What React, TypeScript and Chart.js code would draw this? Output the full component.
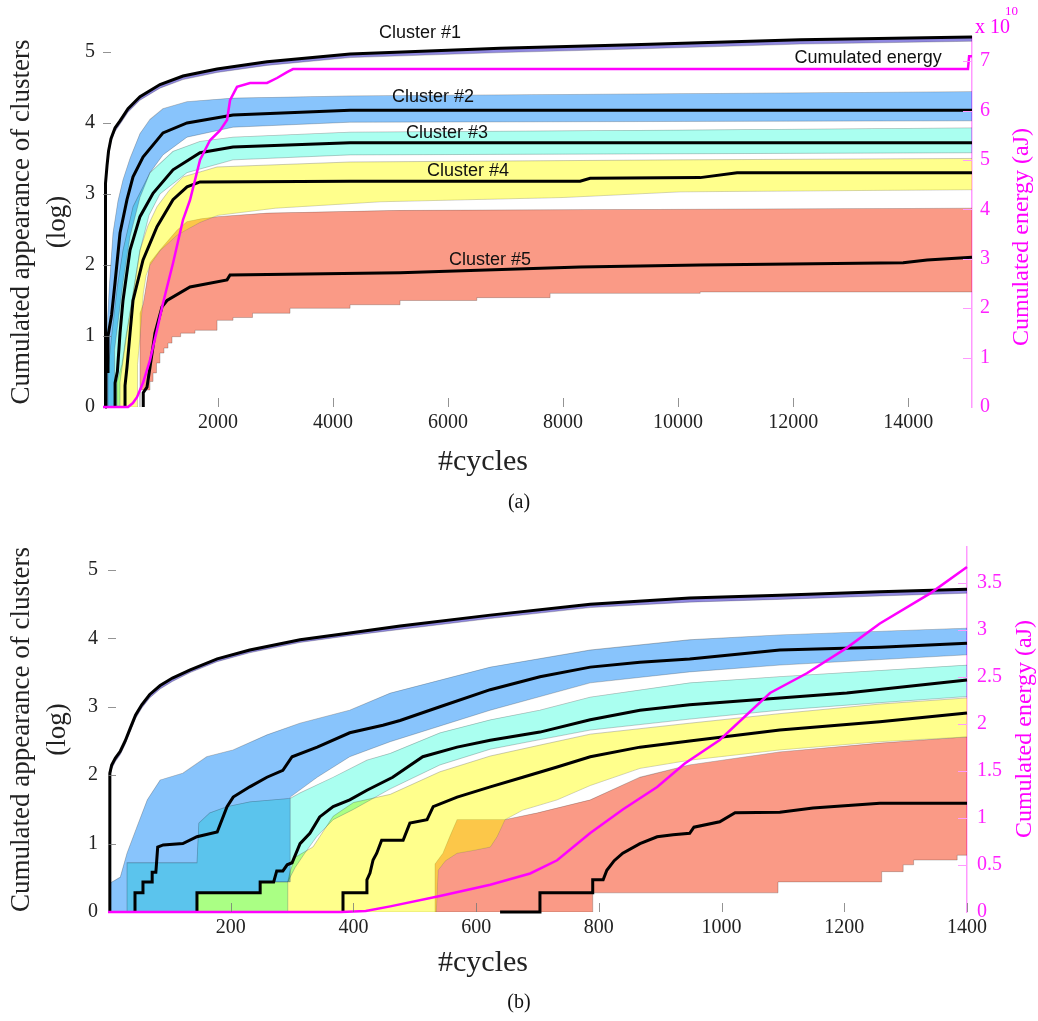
import React, { useEffect, useRef } from 'react';
import { Chart, registerables } from 'chart.js';

// per-dataset blend mode for band fills (registered before the Filler so it wraps the fill)
const blendFills = {
  id: 'blendFills',
  beforeDatasetDraw(chart: any, args: any) {
    const ds: any = chart.data.datasets[args.index];
    chart.ctx.save();
    if (ds && ds.blend) chart.ctx.globalCompositeOperation = ds.blend;
  },
  afterDatasetDraw(chart: any) {
    chart.ctx.restore();
  },
};
Chart.register(blendFills as any);
Chart.register(...registerables);

// ---------------- Panel (a) data ----------------
const A_X_TICKS = [2000, 4000, 6000, 8000, 10000, 12000, 14000];
const A_Y_TICKS = [0, 1, 2, 3, 4, 5];
const A_Y2_TICKS = [0, 1, 2, 3, 4, 5, 6, 7];

const A_X_C1 = [35, 35, 52, 70, 96, 139, 209, 296, 435, 643, 991, 1391, 1983, 2852, 4296, 6904, 9217, 12122, 15110];
const A_Y_C1 = [0, 2.9, 3.15, 3.4, 3.6, 3.78, 3.93, 4.03, 4.2, 4.37, 4.54, 4.66, 4.76, 4.86, 4.97, 5.05, 5.1, 5.17, 5.21];
const A_Y_C1_LOW = [0, 2.85, 3.1, 3.35, 3.55, 3.73, 3.88, 3.98, 4.15, 4.32, 4.49, 4.61, 4.71, 4.81, 4.92, 4.99, 5.04, 5.11, 5.15];

const A_X_C2 = [52, 52, 87, 87, 150, 209, 296, 417, 522, 696, 1043, 1461, 2261, 4296, 15110];
const A_Y_C2 = [0, 0.5, 0.5, 1.0, 1.3, 1.75, 2.45, 2.92, 3.24, 3.52, 3.86, 4.0, 4.11, 4.18, 4.18];
const A_X_C2_UP = [35, 35, 70, 110, 174, 260, 348, 470, 643, 817, 1043, 1461, 2261, 4296, 15110];
const A_Y_C2_UP = [0, 0.6, 1.1, 1.7, 2.45, 2.9, 3.2, 3.5, 3.85, 4.05, 4.2, 4.3, 4.35, 4.38, 4.44];
const A_X_C2_LOW = [35, 200, 200, 348, 470, 643, 817, 1043, 1461, 2261, 4296, 15110];
const A_Y_C2_LOW = [0, 0, 0.8, 1.75, 2.4, 2.95, 3.3, 3.55, 3.8, 3.94, 4.01, 4.03];

const A_X_C3 = [210, 210, 250, 296, 348, 470, 643, 870, 1217, 1687, 2261, 4296, 15110];
const A_Y_C3 = [0, 0.34, 0.5, 1.04, 1.5, 2.21, 2.68, 3.01, 3.34, 3.58, 3.66, 3.72, 3.72];
const A_X_C3_UP = [87, 87, 150, 250, 348, 522, 817, 1217, 1687, 2261, 4296, 10000, 15110];
const A_Y_C3_UP = [0, 0.5, 1.0, 1.7, 2.21, 2.82, 3.3, 3.6, 3.74, 3.8, 3.87, 3.9, 3.93];
const A_X_C3_LOW = [87, 296, 296, 400, 504, 643, 800, 991, 1461, 2261, 4296, 15110];
const A_Y_C3_LOW = [0, 0, 0.35, 0.95, 1.5, 2.2, 2.7, 3.0, 3.3, 3.48, 3.55, 3.58];

const A_X_C4 = [383, 383, 417, 470, 522, 696, 939, 1217, 1461, 1687, 4296, 8296, 8470, 10383, 11026, 15110];
const A_Y_C4 = [0, 0.3, 0.56, 1.04, 1.5, 2.07, 2.54, 2.92, 3.1, 3.17, 3.18, 3.18, 3.22, 3.23, 3.3, 3.3];
const A_X_C4_UP = [243, 243, 330, 400, 504, 643, 780, 939, 1150, 1391, 1983, 4296, 10000, 15110];
const A_Y_C4_UP = [0, 0.35, 0.6, 1.0, 1.5, 2.21, 2.55, 2.82, 3.05, 3.24, 3.38, 3.45, 3.48, 3.5];
const A_X_C4_LOW = [243, 600, 600, 643, 700, 748, 817, 991, 1287, 1461, 1687, 2000, 3000, 4817, 8000, 10035, 15110];
const A_Y_C4_LOW = [0, 0, 0.6, 1.0, 1.6, 1.85, 2.0, 2.2, 2.42, 2.5, 2.6, 2.7, 2.8, 2.89, 2.95, 3.03, 3.06];

const A_X_C5 = [700, 700, 765, 817, 904, 1026, 1113, 1513, 2157, 2209, 5165, 8296, 10383, 13913, 14330, 15110];
const A_Y_C5 = [0, 0.2, 0.28, 0.56, 1.04, 1.41, 1.5, 1.69, 1.79, 1.86, 1.89, 1.97, 2.0, 2.03, 2.07, 2.11];
const A_X_C5_UP = [643, 643, 700, 748, 817, 991, 1287, 1461, 1700, 2000, 2852, 5165, 15110];
const A_Y_C5_UP = [0, 1.32, 1.45, 1.69, 2.03, 2.21, 2.49, 2.61, 2.65, 2.68, 2.73, 2.77, 2.8];
const A_X_C5_LOW = [643, 817, 870, 930, 990, 1060, 1130, 1200, 1350, 1600, 1983, 2261, 2600, 3252, 4296, 5165, 6500, 7774, 10383, 15110];
const A_Y_C5_LOW = [0, 0.24, 0.36, 0.48, 0.62, 0.76, 0.83, 0.9, 0.99, 1.04, 1.08, 1.22, 1.26, 1.32, 1.39, 1.44, 1.5, 1.54, 1.6, 1.62];

const A_X_ENERGY = [0, 435, 520, 591, 696, 817, 939, 1043, 1217, 1391, 1513, 1687, 1861, 2035, 2157, 2209, 2330, 2557, 2852, 3026, 3200, 3304, 15040, 15060, 15110];
const A_Y_ENERGY = [0, 0, 0.08, 0.2, 0.49, 0.95, 1.56, 2.1, 2.91, 3.79, 4.19, 5.0, 5.4, 5.6, 5.81, 6.21, 6.48, 6.56, 6.56, 6.66, 6.78, 6.84, 6.84, 7.1, 7.1];

// ---------------- Panel (b) data ----------------
const B_X_TICKS = [200, 400, 600, 800, 1000, 1200, 1400];
const B_Y_TICKS = [0, 1, 2, 3, 4, 5];
const B_Y2_TICKS = [0, 0.5, 1, 1.5, 2, 2.5, 3, 3.5];

const B_X_C1 = [3, 3, 6, 12, 20, 28, 36, 45, 55, 68, 85, 105, 134, 178, 231, 313, 394, 476, 623, 786, 948, 1095, 1258, 1400];
const B_Y_C1 = [0, 2.03, 2.15, 2.25, 2.35, 2.5, 2.68, 2.88, 3.03, 3.18, 3.31, 3.42, 3.54, 3.7, 3.83, 3.98, 4.08, 4.18, 4.34, 4.5, 4.59, 4.63, 4.68, 4.72];
const B_Y_C1_LOW = [0, 1.95, 2.09, 2.2, 2.3, 2.45, 2.63, 2.83, 2.98, 3.13, 3.26, 3.37, 3.5, 3.66, 3.79, 3.94, 4.04, 4.13, 4.29, 4.45, 4.53, 4.57, 4.62, 4.66];

const B_X_C2 = [44, 44, 57, 57, 72, 72, 78, 81, 90, 122, 145, 178, 194, 204, 231, 259, 285, 300, 341, 394, 448, 476, 541, 623, 704, 786, 867, 948, 1095, 1258, 1400];
const B_Y_C2 = [0, 0.28, 0.28, 0.44, 0.44, 0.58, 0.58, 0.95, 0.98, 1.0, 1.1, 1.17, 1.54, 1.68, 1.83, 1.97, 2.07, 2.27, 2.41, 2.62, 2.73, 2.8, 3.0, 3.25, 3.44, 3.58, 3.65, 3.7, 3.83, 3.87, 3.93];
const B_X_C2_UP = [3, 3, 20, 31, 47, 64, 85, 122, 161, 204, 259, 313, 394, 460, 623, 786, 948, 1095, 1400];
const B_Y_C2_UP = [0, 0.42, 0.51, 0.86, 1.24, 1.64, 1.93, 2.03, 2.27, 2.37, 2.59, 2.76, 2.95, 3.2, 3.58, 3.83, 3.98, 4.05, 4.15];
const B_X_C2_LOW = [3, 145, 145, 248, 248, 297, 297, 341, 394, 460, 623, 786, 948, 1095, 1400];
const B_Y_C2_LOW = [0, 0, 0.28, 0.28, 0.44, 0.44, 1.68, 1.97, 2.27, 2.49, 2.95, 3.35, 3.51, 3.61, 3.76];

const B_X_C3 = [145, 145, 248, 248, 270, 275, 285, 292, 300, 313, 329, 345, 367, 394, 422, 464, 513, 569, 623, 704, 786, 867, 948, 1095, 1204, 1400];
const B_Y_C3 = [0, 0.28, 0.28, 0.44, 0.44, 0.6, 0.6, 0.69, 0.72, 1.0, 1.15, 1.39, 1.54, 1.64, 1.78, 1.97, 2.27, 2.41, 2.51, 2.63, 2.81, 2.95, 3.03, 3.13, 3.2, 3.39];
const B_X_C3_UP = [31, 31, 145, 148, 166, 194, 231, 297, 313, 367, 422, 460, 541, 623, 704, 786, 948, 1095, 1400];
const B_Y_C3_UP = [0, 0.72, 0.72, 1.3, 1.45, 1.54, 1.61, 1.66, 1.74, 1.97, 2.22, 2.32, 2.62, 2.81, 2.95, 3.14, 3.35, 3.44, 3.61];
const B_X_C3_LOW = [31, 293, 293, 305, 320, 340, 367, 400, 460, 541, 623, 704, 786, 948, 1095, 1258, 1400];
const B_Y_C3_LOW = [0, 0, 0.44, 0.65, 0.85, 1.1, 1.35, 1.5, 1.8, 2.15, 2.38, 2.52, 2.66, 2.82, 2.95, 3.06, 3.15];

const B_X_C4 = [383, 383, 422, 422, 427, 432, 438, 446, 481, 492, 520, 530, 569, 623, 676, 732, 786, 867, 948, 1095, 1258, 1400];
const B_Y_C4 = [0, 0.28, 0.28, 0.47, 0.57, 0.76, 0.86, 1.05, 1.05, 1.3, 1.35, 1.54, 1.68, 1.83, 1.97, 2.12, 2.27, 2.41, 2.5, 2.66, 2.78, 2.91];
const B_X_C4_UP = [145, 145, 248, 248, 293, 297, 305, 334, 367, 400, 460, 541, 623, 704, 786, 948, 1095, 1258, 1400];
const B_Y_C4_UP = [0, 0.28, 0.28, 0.44, 0.44, 0.6, 0.8, 0.95, 1.4, 1.6, 1.72, 2.05, 2.28, 2.44, 2.6, 2.76, 2.9, 3.04, 3.13];
const B_X_C4_LOW = [145, 535, 538, 550, 569, 595, 623, 634, 647, 676, 732, 786, 867, 948, 1095, 1258, 1400];
const B_Y_C4_LOW = [0, 0, 0.61, 0.75, 0.86, 0.9, 0.95, 1.1, 1.35, 1.49, 1.64, 1.85, 2.1, 2.22, 2.37, 2.49, 2.56];

const B_X_C5 = [639, 704, 704, 790, 790, 807, 813, 825, 839, 867, 895, 921, 948, 955, 997, 1022, 1095, 1149, 1258, 1400];
const B_Y_C5 = [0, 0, 0.28, 0.28, 0.47, 0.47, 0.61, 0.75, 0.86, 1.0, 1.1, 1.13, 1.15, 1.24, 1.32, 1.45, 1.46, 1.52, 1.59, 1.59];
const B_X_C5_UP = [533, 533, 546, 557, 569, 647, 700, 786, 867, 948, 1095, 1258, 1400];
const B_Y_C5_UP = [0, 0.7, 0.86, 1.1, 1.35, 1.35, 1.45, 1.64, 1.97, 2.15, 2.34, 2.47, 2.56];
const B_X_C5_LOW = [533, 790, 790, 1092, 1092, 1261, 1261, 1296, 1296, 1313, 1313, 1384, 1384, 1400];
const B_Y_C5_LOW = [0, 0, 0.28, 0.28, 0.44, 0.44, 0.59, 0.59, 0.69, 0.69, 0.76, 0.76, 0.83, 0.83];

const B_X_ENERGY = [0, 380, 420, 460, 541, 623, 688, 732, 786, 839, 895, 940, 997, 1079, 1139, 1204, 1258, 1340, 1400];
const B_Y_ENERGY = [0, 0, 0.01, 0.06, 0.17, 0.29, 0.41, 0.55, 0.84, 1.09, 1.33, 1.58, 1.83, 2.33, 2.54, 2.81, 3.07, 3.39, 3.67];

// ---------------- styling ----------------
const SERIF = '"Liberation Serif", "Times New Roman", serif';
const SANS = '"Liberation Sans", Arial, sans-serif';
const MAGENTA = '#ff00ff';
const EDGE = 'rgba(110,110,110,0.45)';
const COL_C1 = '#9088e0';
const COL_C2 = '#88c4fc';
const COL_C3 = '#aafff0';
const COL_C4 = 'rgba(255,255,0,0.45)';
const COL_C5 = '#fa9a86';

const P = (xs: number[], ys: number[]) => xs.map((x, i) => ({ x, y: ys[i] }));

function band(upX: number[], upY: number[], loX: number[], loY: number[], color: string, blend = 'multiply', steppedLow: any = false) {
  return [
    { data: P(upX, upY), fill: '+1', backgroundColor: color, borderColor: EDGE, borderWidth: 0.8, pointRadius: 0, order: 5, yAxisID: 'y', blend },
    { data: P(loX, loY), fill: false, borderColor: EDGE, borderWidth: 0.8, pointRadius: 0, order: 5, yAxisID: 'y', stepped: steppedLow },
  ];
}
function median(xs: number[], ys: number[], w = 3) {
  return { data: P(xs, ys), fill: false, borderColor: '#000', borderWidth: w, pointRadius: 0, order: 2, clip: 6, yAxisID: 'y' };
}
function energy(xs: number[], ys: number[]) {
  return { data: P(xs, ys), fill: false, borderColor: MAGENTA, borderWidth: 2.5, pointRadius: 0, order: 1, clip: 6, yAxisID: 'y2' };
}

type TextItem = { text: string; x: number; y: number; font: string; color: string; align?: CanvasTextAlign; rot?: number; data?: boolean };

function overlay(items: TextItem[]) {
  return {
    id: 'overlay',
    afterDraw(chart: any) {
      const { ctx, chartArea: a, scales } = chart;
      ctx.save();
      ctx.lineWidth = 1;
      ctx.strokeStyle = 'rgba(120,120,120,0.8)';
      for (const t of scales.y.ticks) {
        if (t.value === 0) continue;
        const py = Math.round(scales.y.getPixelForValue(t.value)) + 0.5;
        ctx.beginPath(); ctx.moveTo(a.left, py); ctx.lineTo(a.left + 8, py); ctx.stroke();
      }
      for (const t of scales.x.ticks) {
        if (t.value === 0) continue;
        const px = Math.round(scales.x.getPixelForValue(t.value)) + 0.5;
        ctx.beginPath(); ctx.moveTo(px, a.bottom); ctx.lineTo(px, a.bottom - 9); ctx.stroke();
      }
      ctx.strokeStyle = '#ff99ff';
      for (const t of scales.y2.ticks) {
        if (t.value === 0) continue;
        const py = Math.round(scales.y2.getPixelForValue(t.value)) + 0.5;
        ctx.beginPath(); ctx.moveTo(a.right - 9, py); ctx.lineTo(a.right, py); ctx.stroke();
      }
      for (const it of items) {
        ctx.save();
        ctx.font = it.font;
        ctx.fillStyle = it.color;
        ctx.textAlign = it.align || 'center';
        ctx.textBaseline = 'middle';
        const px = it.data ? scales.x.getPixelForValue(it.x) : it.x;
        const py = it.data ? scales.y.getPixelForValue(it.y) : it.y;
        ctx.translate(px, py);
        if (it.rot) ctx.rotate(it.rot);
        ctx.fillText(it.text, 0, 0);
        ctx.restore();
      }
      ctx.restore();
    },
  };
}

type PanelCfg = {
  datasets: any[]; xMax: number; yMax: number; y2Max: number;
  xTicks: number[]; yTicks: number[]; y2Ticks: number[];
  top: number; leftW: number; rightW: number; bottomH: number; leftPad: number; rightPad: number; items: TextItem[];
};

const setTicks = (vals: number[]) => (s: any) => { s.ticks = vals.map((v) => ({ value: v })); };

function makeConfig(p: PanelCfg): any {
  const tickFont = { family: SERIF, size: 20 };
  return {
    type: 'line',
    data: { datasets: p.datasets },
    plugins: [overlay(p.items)],
    options: {
      animation: false,
      responsive: false,
      devicePixelRatio: 1,
      events: [],
      layout: { padding: { top: p.top, left: 0, right: 0, bottom: 0 } },
      plugins: {
        legend: { display: false },
        tooltip: { enabled: false },
        filler: { propagate: false },
      },
      scales: {
        x: {
          type: 'linear', min: 0, max: p.xMax,
          grid: { display: false, drawTicks: false },
          border: { display: false },
          afterBuildTicks: setTicks(p.xTicks),
          ticks: { autoSkip: false, maxRotation: 0, padding: 4, color: '#222', font: tickFont, callback: (v: number) => String(v) },
          afterFit: (s: any) => { s.height = p.bottomH; },
        },
        y: {
          type: 'linear', position: 'left', min: 0, max: p.yMax,
          grid: { display: false, drawTicks: false },
          border: { display: false },
          afterBuildTicks: setTicks(p.yTicks),
          ticks: { padding: p.leftPad, color: '#222', font: tickFont, callback: (v: number) => String(v) },
          title: {
            display: true,
            text: ['Cumulated appearance of clusters', '(log)'],
            color: '#222',
            font: { family: SERIF, size: 27, lineHeight: 1.32 },
            padding: { top: 4, bottom: 0 },
          },
          afterFit: (s: any) => { s.width = p.leftW; },
        },
        y2: {
          type: 'linear', position: 'right', min: 0, max: p.y2Max,
          grid: { display: false, drawTicks: false },
          border: { display: true, color: '#ff99ff', width: 1.5 },
          afterBuildTicks: setTicks(p.y2Ticks),
          ticks: { padding: p.rightPad, color: '#ff22ff', font: tickFont, callback: (v: number) => String(v) },
          afterFit: (s: any) => { s.width = p.rightW; },
        },
      },
    },
  };
}

const lblFont = `18px ${SANS}`;

const panelA: PanelCfg = {
  datasets: [
    ...band(A_X_C1, A_Y_C1, A_X_C1, A_Y_C1_LOW, COL_C1),
    ...band(A_X_C2_UP, A_Y_C2_UP, A_X_C2_LOW, A_Y_C2_LOW, COL_C2),
    ...band(A_X_C3_UP, A_Y_C3_UP, A_X_C3_LOW, A_Y_C3_LOW, COL_C3),
    ...band(A_X_C4_UP, A_Y_C4_UP, A_X_C4_LOW, A_Y_C4_LOW, COL_C4, 'source-over'),
    ...band(A_X_C5_UP, A_Y_C5_UP, A_X_C5_LOW, A_Y_C5_LOW, COL_C5, 'multiply', 'after'),
    median(A_X_C1, A_Y_C1),
    median(A_X_C2, A_Y_C2),
    median(A_X_C3, A_Y_C3),
    median(A_X_C4, A_Y_C4),
    median(A_X_C5, A_Y_C5),
    energy(A_X_ENERGY, A_Y_ENERGY),
  ],
  xMax: 15110, yMax: 5.21, y2Max: 7.49,
  xTicks: A_X_TICKS, yTicks: A_Y_TICKS, y2Ticks: A_Y2_TICKS,
  top: 37, leftW: 103, rightW: 66, bottomH: 113, leftPad: 8, rightPad: 8,
  items: [
    { text: 'Cluster #1', x: 5513, y: 5.27, data: true, font: lblFont, color: '#111' },
    { text: 'Cumulated energy', x: 13304, y: 4.92, data: true, font: lblFont, color: '#111' },
    { text: 'Cluster #2', x: 5739, y: 4.37, data: true, font: lblFont, color: '#111' },
    { text: 'Cluster #3', x: 5983, y: 3.86, data: true, font: lblFont, color: '#111' },
    { text: 'Cluster #4', x: 6348, y: 3.32, data: true, font: lblFont, color: '#111' },
    { text: 'Cluster #5', x: 6730, y: 2.07, data: true, font: lblFont, color: '#111' },
    { text: 'x 10', x: 975, y: 28, align: 'left', font: `20px ${SERIF}`, color: MAGENTA },
    { text: '10', x: 1005, y: 12, align: 'left', font: `13px ${SERIF}`, color: MAGENTA },
    { text: 'Cumulated energy (aJ)', x: 1022, y: 237, rot: -Math.PI / 2, font: `24px ${SERIF}`, color: MAGENTA },
    { text: '#cycles', x: 483, y: 462, font: `30px ${SERIF}`, color: '#222' },
    { text: '(a)', x: 519, y: 503, font: `20px ${SERIF}`, color: '#111' },
  ],
};

const panelB: PanelCfg = {
  datasets: [
    ...band(B_X_C1, B_Y_C1, B_X_C1, B_Y_C1_LOW, COL_C1),
    ...band(B_X_C2_UP, B_Y_C2_UP, B_X_C2_LOW, B_Y_C2_LOW, COL_C2),
    ...band(B_X_C3_UP, B_Y_C3_UP, B_X_C3_LOW, B_Y_C3_LOW, COL_C3),
    ...band(B_X_C4_UP, B_Y_C4_UP, B_X_C4_LOW, B_Y_C4_LOW, COL_C4, 'source-over'),
    ...band(B_X_C5_UP, B_Y_C5_UP, B_X_C5_LOW, B_Y_C5_LOW, COL_C5),
    median(B_X_C1, B_Y_C1),
    median(B_X_C2, B_Y_C2),
    median(B_X_C3, B_Y_C3),
    median(B_X_C4, B_Y_C4),
    median(B_X_C5, B_Y_C5),
    energy(B_X_ENERGY, B_Y_ENERGY),
  ],
  xMax: 1400, yMax: 5.336, y2Max: 3.883,
  xTicks: B_X_TICKS, yTicks: B_Y_TICKS, y2Ticks: B_Y2_TICKS,
  top: 27, leftW: 108, rightW: 71, bottomH: 109, leftPad: 10, rightPad: 10,
  items: [
    { text: 'Cumulated energy (aJ)', x: 1025, y: 209, rot: -Math.PI / 2, font: `24px ${SERIF}`, color: MAGENTA },
    { text: '#cycles', x: 483, y: 443, font: `30px ${SERIF}`, color: '#222' },
    { text: '(b)', x: 519, y: 483, font: `20px ${SERIF}`, color: '#111' },
  ],
};

function Panel({ cfg, width, height, top }: { cfg: PanelCfg; width: number; height: number; top: number }) {
  const ref = useRef<HTMLCanvasElement | null>(null);
  useEffect(() => {
    if (!ref.current) return;
    const chart = new Chart(ref.current, makeConfig(cfg));
    return () => chart.destroy();
  }, [cfg]);
  return (
    <canvas
      ref={ref}
      width={width}
      height={height}
      style={{ position: 'absolute', left: 0, top, width, height, display: 'block' }}
    />
  );
}

export default function App() {
  return (
    <div style={{ position: 'absolute', left: 0, top: 0, width: 1038, height: 1021, background: '#fff' }}>
      <Panel cfg={panelA} width={1038} height={520} top={0} />
      <Panel cfg={panelB} width={1038} height={501} top={520} />
    </div>
  );
}
